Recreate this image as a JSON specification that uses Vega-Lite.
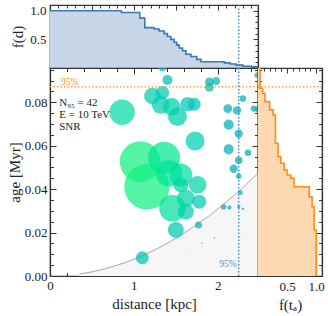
{
  "$schema": "https://vega.github.io/schema/vega-lite/v6.json",
  "padding": {"left": 6, "top": 3, "right": 5, "bottom": 5},
  "config": {
    "view": {"stroke": "#333", "strokeWidth": 1.2},
    "concat": {"spacing": 0},
    "axis": {
      "labelFont": "Liberation Serif", "titleFont": "Liberation Serif",
      "labelFontSize": 13, "titleFontSize": 15, "titleFontWeight": "normal",
      "labelColor": "#222", "titleColor": "#222",
      "tickColor": "#333", "domainColor": "#333", "domainWidth": 1.2,
      "grid": false, "labelOverlap": false, "labelFlush": false, "labelPadding": 9, "titlePadding": 2
    }
  },
  "datasets": {
    "topccdf": [
      {"d": 0, "f": 1.0}, {"d": 0.85, "f": 0.97}, {"d": 1.07, "f": 0.87}, {"d": 1.13, "f": 0.705},
      {"d": 1.24, "f": 0.68}, {"d": 1.30, "f": 0.645}, {"d": 1.36, "f": 0.6}, {"d": 1.40, "f": 0.55},
      {"d": 1.44, "f": 0.5}, {"d": 1.48, "f": 0.45}, {"d": 1.51, "f": 0.4}, {"d": 1.54, "f": 0.35},
      {"d": 1.58, "f": 0.3}, {"d": 1.62, "f": 0.24}, {"d": 1.68, "f": 0.2}, {"d": 1.75, "f": 0.15},
      {"d": 1.80, "f": 0.11}, {"d": 2.08, "f": 0.09}, {"d": 2.15, "f": 0.07}, {"d": 2.22, "f": 0.05},
      {"d": 2.30, "f": 0.03}, {"d": 2.40, "f": 0.02}, {"d": 2.48, "f": 0.02}
    ],
    "rightccdf": [
      {"age": 0, "f": 1.0}, {"age": 0.0212, "f": 0.965}, {"age": 0.0319, "f": 0.93}, {"age": 0.0365, "f": 0.88},
      {"age": 0.0411, "f": 0.62}, {"age": 0.0450, "f": 0.56}, {"age": 0.0465, "f": 0.5}, {"age": 0.0488, "f": 0.45},
      {"age": 0.0519, "f": 0.39}, {"age": 0.0550, "f": 0.345}, {"age": 0.0611, "f": 0.3}, {"age": 0.0742, "f": 0.26},
      {"age": 0.0765, "f": 0.2}, {"age": 0.0803, "f": 0.12}, {"age": 0.0842, "f": 0.08}, {"age": 0.0865, "f": 0.035},
      {"age": 0.0958, "f": 0.02}
    ],
    "curve": [
      {"d": 0.35, "age": 0.00094}, {"d": 0.5, "age": 0.0019}, {"d": 0.7, "age": 0.0038}, {"d": 0.9, "age": 0.0062},
      {"d": 1.1, "age": 0.0093}, {"d": 1.3, "age": 0.0130}, {"d": 1.5, "age": 0.0173}, {"d": 1.7, "age": 0.0223},
      {"d": 1.9, "age": 0.0278}, {"d": 2.1, "age": 0.0340}, {"d": 2.3, "age": 0.0407}, {"d": 2.5, "age": 0.0481}
    ],
    "sources": [
      {"d": 1.155, "age": 0.0411, "rad": 25.5, "c": 1.0},
      {"d": 1.075, "age": 0.0527, "rad": 23, "c": 1.0},
      {"d": 1.36, "age": 0.0545, "rad": 18, "c": 0.95},
      {"d": 1.42, "age": 0.0473, "rad": 15, "c": 0.92},
      {"d": 1.46, "age": 0.0312, "rad": 15, "c": 0.9},
      {"d": 1.56, "age": 0.0465, "rad": 13, "c": 0.9},
      {"d": 0.86, "age": 0.0754, "rad": 14.3, "c": 0.88},
      {"d": 1.73, "age": 0.0622, "rad": 10.7, "c": 0.82},
      {"d": 1.52, "age": 0.0734, "rad": 10.7, "c": 0.82},
      {"d": 1.32, "age": 0.0788, "rad": 10, "c": 0.82},
      {"d": 1.45, "age": 0.0780, "rad": 10, "c": 0.82},
      {"d": 1.22, "age": 0.0829, "rad": 9.3, "c": 0.8},
      {"d": 1.34, "age": 0.0844, "rad": 7.7, "c": 0.78},
      {"d": 1.64, "age": 0.0791, "rad": 8.3, "c": 0.78},
      {"d": 1.72, "age": 0.0791, "rad": 7.3, "c": 0.76},
      {"d": 1.76, "age": 0.0420, "rad": 10, "c": 0.85},
      {"d": 1.56, "age": 0.0419, "rad": 8.3, "c": 0.85},
      {"d": 1.62, "age": 0.0358, "rad": 10, "c": 0.85},
      {"d": 1.78, "age": 0.0342, "rad": 8, "c": 0.8},
      {"d": 1.62, "age": 0.0296, "rad": 9, "c": 0.82},
      {"d": 1.50, "age": 0.0212, "rad": 9, "c": 0.78},
      {"d": 1.10, "age": 0.0084, "rad": 7.3, "c": 0.76},
      {"d": 1.40, "age": 0.0903, "rad": 5.7, "c": 0.72},
      {"d": 1.34, "age": 0.0962, "rad": 4.5, "c": 0.7},
      {"d": 1.90, "age": 0.0894, "rad": 5, "c": 0.7},
      {"d": 1.98, "age": 0.0898, "rad": 4.5, "c": 0.7},
      {"d": 1.90, "age": 0.0869, "rad": 5, "c": 0.7},
      {"d": 2.12, "age": 0.0771, "rad": 5, "c": 0.66},
      {"d": 2.23, "age": 0.0763, "rad": 4.7, "c": 0.66},
      {"d": 2.30, "age": 0.0817, "rad": 3.7, "c": 0.64},
      {"d": 2.13, "age": 0.0697, "rad": 5.7, "c": 0.66},
      {"d": 2.25, "age": 0.0655, "rad": 4.7, "c": 0.64},
      {"d": 2.13, "age": 0.0583, "rad": 5.7, "c": 0.66},
      {"d": 2.36, "age": 0.0568, "rad": 3.7, "c": 0.64},
      {"d": 2.25, "age": 0.0533, "rad": 4.3, "c": 0.64},
      {"d": 2.19, "age": 0.0494, "rad": 4.7, "c": 0.66},
      {"d": 2.43, "age": 0.0771, "rad": 3.5, "c": 0.62},
      {"d": 2.48, "age": 0.0768, "rad": 3.5, "c": 0.62},
      {"d": 2.47, "age": 0.0925, "rad": 3, "c": 0.62},
      {"d": 2.25, "age": 0.0460, "rad": 3, "c": 0.62},
      {"d": 2.27, "age": 0.0384, "rad": 2.7, "c": 0.6},
      {"d": 2.07, "age": 0.0318, "rad": 3, "c": 0.62},
      {"d": 2.14, "age": 0.0315, "rad": 2.3, "c": 0.6},
      {"d": 2.25, "age": 0.0319, "rad": 2, "c": 0.58},
      {"d": 2.30, "age": 0.0309, "rad": 1.3, "c": 0.55},
      {"d": 1.77, "age": 0.0235, "rad": 4, "c": 0.68},
      {"d": 1.96, "age": 0.0175, "rad": 0.8, "c": 0.4},
      {"d": 1.81, "age": 0.0151, "rad": 0.8, "c": 0.4},
      {"d": 1.67, "age": 0.0106, "rad": 0.5, "c": 0.35},
      {"d": 2.33, "age": 0.0189, "rad": 0.4, "c": 0.35}
    ]
  },
  "vconcat": [
    {
      "width": 208, "height": 63,
      "layer": [
        {
          "data": {"name": "topccdf"},
          "mark": {"type": "area", "interpolate": "step-after", "color": "#c6d6e7", "opacity": 1},
          "encoding": {
            "x": {"field": "d", "type": "quantitative", "scale": {"domain": [0, 2.48], "nice": false, "zero": false},
              "axis": {"orient": "bottom", "title": null, "labels": false,
                "values": [0,0.1,0.2,0.3,0.4,0.5,0.6,0.7,0.8,0.9,1,1.1,1.2,1.3,1.4,1.5,1.6,1.7,1.8,1.9,2,2.1,2.2,2.3,2.4],
                "tickSize": {"condition": {"test": "abs(datum.value*2-round(datum.value*2))<1e-6", "value": -5}, "value": -3}}},
            "y": {"field": "f", "type": "quantitative", "scale": {"domain": [0, 1.1], "nice": false},
              "axis": {"orient": "left", "title": "f(d)", "titlePadding": 4,
                "values": [0.1,0.2,0.3,0.4,0.5,0.6,0.7,0.8,0.9,1.0],
                "labelExpr": "abs(datum.value*2-round(datum.value*2))<1e-6 ? format(datum.value,'.1f') : ''",
                "tickSize": {"condition": {"test": "abs(datum.value*2-round(datum.value*2))<1e-6", "value": -5}, "value": -3}}}
          }
        },
        {
          "data": {"name": "topccdf"},
          "mark": {"type": "line", "interpolate": "step-after", "color": "#3b78b4", "strokeWidth": 1.6},
          "encoding": {
            "x": {"field": "d", "type": "quantitative", "scale": {"domain": [0, 2.48], "nice": false, "zero": false},
              "axis": {"orient": "top", "title": null, "labels": false,
                "values": [0,0.1,0.2,0.3,0.4,0.5,0.6,0.7,0.8,0.9,1,1.1,1.2,1.3,1.4,1.5,1.6,1.7,1.8,1.9,2,2.1,2.2,2.3,2.4],
                "tickSize": {"condition": {"test": "abs(datum.value*2-round(datum.value*2))<1e-6", "value": -5}, "value": -3}}},
            "y": {"field": "f", "type": "quantitative", "scale": {"domain": [0, 1.1], "nice": false},
              "axis": {"orient": "right", "title": null, "labels": false,
                "values": [0.1,0.2,0.3,0.4,0.5,0.6,0.7,0.8,0.9,1.0],
                "tickSize": {"condition": {"test": "abs(datum.value*2-round(datum.value*2))<1e-6", "value": -5}, "value": -3}}}
          }
        },
        {
          "data": {"values": [{"d": 2.25}]},
          "mark": {"type": "rule", "color": "#3a8ad0", "strokeWidth": 1.4, "strokeDash": [1.5, 2]},
          "encoding": {
            "x": {"field": "d", "type": "quantitative", "scale": {"domain": [0, 2.48], "nice": false, "zero": false}, "axis": null}
          }
        }
      ],
      "resolve": {"axis": {"x": "independent", "y": "independent"}}
    },
    {
      "hconcat": [
        {
          "width": 208, "height": 208,
          "layer": [
            {
              "data": {"name": "curve"},
              "mark": {"type": "area", "color": "#f6f6f6", "clip": true},
              "encoding": {
                "x": {"field": "d", "type": "quantitative", "scale": {"domain": [0, 2.48], "nice": false, "zero": false},
                  "axis": {"orient": "bottom", "title": "distance [kpc]",
                    "values": [0,0.2,0.4,0.6,0.8,1,1.2,1.4,1.6,1.8,2,2.2,2.4],
                    "labelExpr": "abs(datum.value-round(datum.value))<1e-6 ? format(datum.value,'d') : ''",
                    "tickSize": {"condition": {"test": "abs(datum.value-round(datum.value))<1e-6", "value": -6}, "value": -3.5}}},
                "y": {"field": "age", "type": "quantitative", "scale": {"domain": [0, 0.0958], "nice": false, "zero": false},
                  "axis": {"orient": "left", "title": "age [Myr]",
                    "values": [0,0.005,0.01,0.015,0.02,0.025,0.03,0.035,0.04,0.045,0.05,0.055,0.06,0.065,0.07,0.075,0.08,0.085,0.09,0.095],
                    "labelExpr": "abs(datum.value*50-round(datum.value*50))<1e-6 ? format(datum.value,'.2f') : ''",
                    "tickSize": {"condition": {"test": "abs(datum.value*50-round(datum.value*50))<1e-6", "value": -6}, "value": -3.5}}},
                "y2": {"datum": 0}
              }
            },
            {
              "data": {"name": "curve"},
              "mark": {"type": "line", "color": "#a8a8a8", "strokeWidth": 1, "clip": true},
              "encoding": {
                "x": {"field": "d", "type": "quantitative", "scale": {"domain": [0, 2.48], "nice": false, "zero": false},
                  "axis": {"orient": "top", "title": null, "labels": false,
                    "values": [0,0.2,0.4,0.6,0.8,1,1.2,1.4,1.6,1.8,2,2.2,2.4],
                    "tickSize": {"condition": {"test": "abs(datum.value-round(datum.value))<1e-6", "value": -6}, "value": -3.5}}},
                "y": {"field": "age", "type": "quantitative", "scale": {"domain": [0, 0.0958], "nice": false, "zero": false},
                  "axis": {"orient": "right", "title": null, "labels": false,
                    "values": [0,0.005,0.01,0.015,0.02,0.025,0.03,0.035,0.04,0.045,0.05,0.055,0.06,0.065,0.07,0.075,0.08,0.085,0.09,0.095],
                    "tickSize": {"condition": {"test": "abs(datum.value*50-round(datum.value*50))<1e-6", "value": -6}, "value": -3.5}}}
              }
            },
            {
              "data": {"name": "sources"},
              "mark": {"type": "circle", "opacity": 0.72, "clip": true},
              "encoding": {
                "x": {"field": "d", "type": "quantitative", "scale": {"domain": [0, 2.48], "nice": false, "zero": false}, "axis": null},
                "y": {"field": "age", "type": "quantitative", "scale": {"domain": [0, 0.0958], "nice": false, "zero": false}, "axis": null},
                "size": {"field": "rad", "type": "quantitative", "scale": {"type": "pow", "exponent": 2, "domain": [0, 25.5], "range": [0, 2043]}, "legend": null},
                "color": {"field": "c", "type": "quantitative", "scale": {"domain": [0.3, 0.65, 1.0], "range": ["#2f6fe0", "#00aeb6", "#10f080"]}, "legend": null}
              }
            },
            {
              "data": {"values": [{"age": 0.0871}]},
              "mark": {"type": "rule", "color": "#ff9020", "strokeWidth": 1.4, "strokeDash": [1.5, 2]},
              "encoding": {
                "y": {"field": "age", "type": "quantitative", "scale": {"domain": [0, 0.0958], "nice": false, "zero": false}, "axis": null}
              }
            },
            {
              "data": {"values": [{"d": 2.25}]},
              "mark": {"type": "rule", "color": "#3a8ad0", "strokeWidth": 1.4, "strokeDash": [1.5, 2]},
              "encoding": {
                "x": {"field": "d", "type": "quantitative", "scale": {"domain": [0, 2.48], "nice": false, "zero": false}, "axis": null}
              }
            },
            {
              "data": {"values": [
                {"t": "N₉₅ = 42", "d": 0.11, "age": 0.0797},
                {"t": "E = 10 TeV", "d": 0.11, "age": 0.0742},
                {"t": "SNR", "d": 0.11, "age": 0.0686}
              ]},
              "mark": {"type": "text", "align": "left", "baseline": "middle", "font": "Liberation Serif", "fontSize": 11, "color": "#222"},
              "encoding": {
                "x": {"field": "d", "type": "quantitative", "scale": {"domain": [0, 2.48], "nice": false, "zero": false}, "axis": null},
                "y": {"field": "age", "type": "quantitative", "scale": {"domain": [0, 0.0958], "nice": false, "zero": false}, "axis": null},
                "text": {"field": "t"}
              }
            },
            {
              "data": {"values": [{"t": "95%", "d": 0.13, "age": 0.0894}]},
              "mark": {"type": "text", "align": "left", "baseline": "middle", "font": "Liberation Serif", "fontSize": 9.5, "color": "#ff9020"},
              "encoding": {
                "x": {"field": "d", "type": "quantitative", "scale": {"domain": [0, 2.48], "nice": false, "zero": false}, "axis": null},
                "y": {"field": "age", "type": "quantitative", "scale": {"domain": [0, 0.0958], "nice": false, "zero": false}, "axis": null},
                "text": {"field": "t"}
              }
            },
            {
              "data": {"values": [{"t": "95%", "d": 2.225, "age": 0.0055}]},
              "mark": {"type": "text", "align": "right", "baseline": "middle", "font": "Liberation Serif", "fontSize": 9.5, "color": "#5a8fc8"},
              "encoding": {
                "x": {"field": "d", "type": "quantitative", "scale": {"domain": [0, 2.48], "nice": false, "zero": false}, "axis": null},
                "y": {"field": "age", "type": "quantitative", "scale": {"domain": [0, 0.0958], "nice": false, "zero": false}, "axis": null},
                "text": {"field": "t"}
              }
            }
          ],
          "resolve": {"axis": {"x": "independent", "y": "independent"}}
        },
        {
          "width": 64, "height": 208,
          "layer": [
            {
              "data": {"name": "rightccdf"},
              "mark": {"type": "area", "interpolate": "step-after", "orient": "horizontal", "fill": "#fdd9b2", "fillOpacity": 1},
              "encoding": {
                "y": {"field": "age", "type": "quantitative", "scale": {"domain": [0, 0.0958], "nice": false, "zero": false},
                  "axis": {"orient": "left", "title": null, "labels": false,
                    "values": [0,0.005,0.01,0.015,0.02,0.025,0.03,0.035,0.04,0.045,0.05,0.055,0.06,0.065,0.07,0.075,0.08,0.085,0.09,0.095],
                    "tickSize": {"condition": {"test": "abs(datum.value*50-round(datum.value*50))<1e-6", "value": -6}, "value": -3.5}}},
                "x": {"field": "f", "type": "quantitative", "scale": {"domain": [0, 1.1], "nice": false},
                  "axis": {"orient": "bottom", "title": "f(tₐ)",
                    "values": [0,0.1,0.2,0.3,0.4,0.5,0.6,0.7,0.8,0.9,1.0],
                    "labelExpr": "datum.value > 0.01 && abs(datum.value*2-round(datum.value*2))<1e-6 ? format(datum.value,'.1f') : ''",
                    "tickSize": {"condition": {"test": "abs(datum.value*2-round(datum.value*2))<1e-6", "value": -5}, "value": -3}}},
                "x2": {"datum": 0}
              }
            },
            {
              "data": {"name": "rightccdf"},
              "mark": {"type": "line", "interpolate": "step-before", "color": "#ff8c1a", "strokeWidth": 1.6, "clip": true},
              "encoding": {
                "y": {"field": "age", "type": "quantitative", "scale": {"domain": [0, 0.0958], "nice": false, "zero": false},
                  "axis": {"orient": "right", "title": null, "labels": false,
                    "values": [0,0.005,0.01,0.015,0.02,0.025,0.03,0.035,0.04,0.045,0.05,0.055,0.06,0.065,0.07,0.075,0.08,0.085,0.09,0.095],
                    "tickSize": {"condition": {"test": "abs(datum.value*50-round(datum.value*50))<1e-6", "value": -6}, "value": -3.5}}},
                "x": {"field": "f", "type": "quantitative", "scale": {"domain": [0, 1.1], "nice": false},
                  "axis": {"orient": "top", "title": null, "labels": false,
                    "values": [0,0.1,0.2,0.3,0.4,0.5,0.6,0.7,0.8,0.9,1.0],
                    "tickSize": {"condition": {"test": "abs(datum.value*2-round(datum.value*2))<1e-6", "value": -5}, "value": -3}}},
                "order": {"field": "age", "type": "quantitative"}
              }
            },
            {
              "data": {"values": [{"age": 0.0871}]},
              "mark": {"type": "rule", "color": "#ff9020", "strokeWidth": 1.4, "strokeDash": [1.5, 2]},
              "encoding": {
                "y": {"field": "age", "type": "quantitative", "scale": {"domain": [0, 0.0958], "nice": false, "zero": false}, "axis": null}
              }
            }
          ],
          "resolve": {"axis": {"x": "independent", "y": "independent"}}
        }
      ],
      "bounds": "flush"
    }
  ],
  "bounds": "flush"
}
